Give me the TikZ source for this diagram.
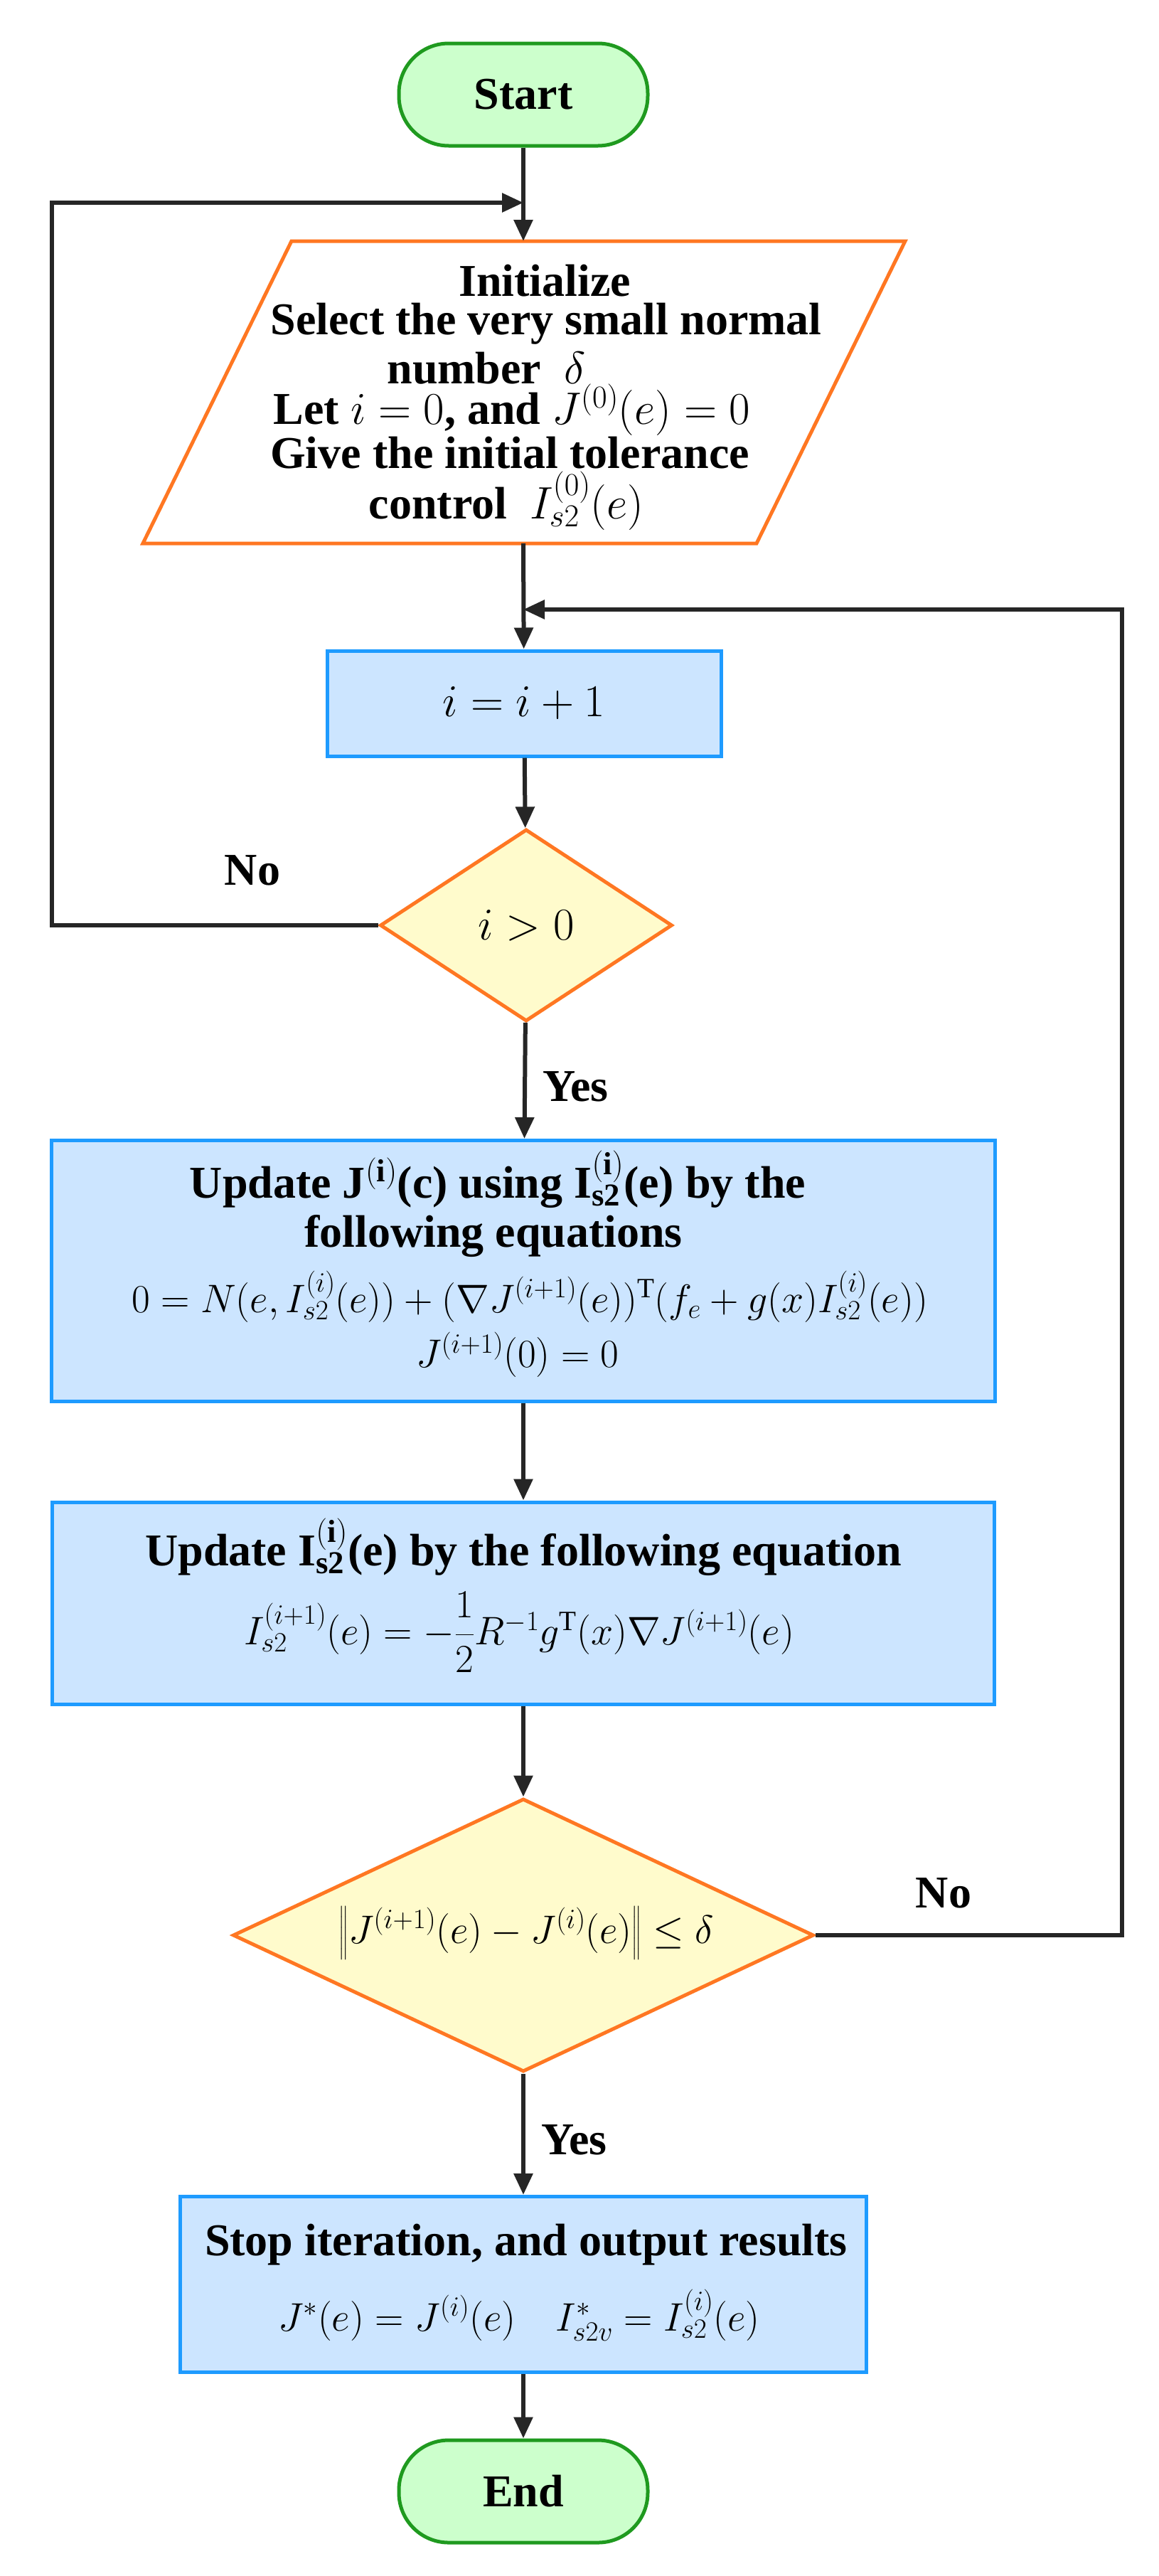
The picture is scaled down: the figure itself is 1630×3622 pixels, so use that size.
\RequirePackage{fix-cm}
\documentclass[tikz,border=0pt]{standalone}
\usepackage{amsmath}
\usepackage{fontspec}
\setmainfont{Liberation Serif}
\usetikzlibrary{shapes.geometric,arrows.meta}
\definecolor{gbd}{HTML}{1F9A1F}\definecolor{gfl}{HTML}{CCFFCC}
\definecolor{bbd}{HTML}{1E9BFF}\definecolor{bfl}{HTML}{CCE5FF}
\definecolor{obd}{HTML}{FF7722}\definecolor{yfl}{HTML}{FFFBCC}
\begin{document}
\begin{tikzpicture}[x=1pt,y=-1pt,
  every node/.style={font=\fontsize{64}{62}\selectfont\bfseries, align=center, inner sep=0},
  term/.style={draw=gbd, fill=gfl, line width=5pt, rounded corners=70pt, minimum width=350pt, minimum height=144pt},
  box/.style={draw=bbd, fill=bfl, line width=5pt},
  dia/.style={draw=obd, fill=yfl, line width=5pt},
  arr/.style={line width=6pt, draw=black!85, -{Triangle[length=30pt,width=26pt]}},
  ln/.style={line width=6pt, draw=black!85}]
\useasboundingbox (0,0) rectangle (1630,3622);
% start
\node[term] (start) at (736,133) {Start};
% parallelogram
\draw[draw=obd, line width=5pt, fill=white] (410,339) -- (1273,339) -- (1064,764) -- (201,764) -- cycle;
\coordinate (inTop) at (736,339);
\coordinate (inBot) at (736,764);
\node at (766,395) {Initialize};
\node at (768,455) {Select the very small normal};
\node at (684,518) {number\ \ $\delta$};
\node at (720,576) {Let $i=0$, and $J^{(0)}(e)=0$};
\node at (717,637) {Give the initial tolerance};
\node at (712,704) {control\ \ $I_{s2}^{(0)}(e)$};
% i=i+1
\node[box, minimum width=554pt, minimum height=148pt] (inc) at (737,989) {\mdseries $i=i+1$};
% diamond 1
\node[dia, diamond, minimum width=411pt, minimum height=270pt, inner sep=0] (d1) at (740,1301) {\mdseries $i>0$};
% box1
\node[box, minimum width=1327pt, minimum height=367pt] (u1) at (736,1787) {};
\node at (700,1658) {Update $\mathbf{J}^{(\mathbf{i})}$(c) using $\mathbf{I}_{\mathbf{s2}}^{(\mathbf{i})}$(e) by the};
\node at (694,1738) {following equations};
\node at (745,1823) {\mdseries\fontsize{56}{60}\selectfont $0=N(e,I_{s2}^{(i)}(e))+(\nabla J^{(i+1)}(e))^{\mathrm{T}}(f_e+g(x)I_{s2}^{(i)}(e))$};
\node at (728,1905) {\mdseries\fontsize{56}{60}\selectfont $J^{(i+1)}(0)=0$};
% box2
\node[box, minimum width=1325pt, minimum height=284pt] (u2) at (736,2254) {};
\node at (736,2175) {Update $\mathbf{I}_{\mathbf{s2}}^{(\mathbf{i})}$(e) by the following equation};
\node at (730,2295) {\mdseries\fontsize{56}{60}\selectfont $I_{s2}^{(i+1)}(e)=-\dfrac{1}{2}R^{-1}g^{\mathrm{T}}(x)\nabla J^{(i+1)}(e)$};
% diamond 2
\node[dia, diamond, minimum width=817pt, minimum height=384pt, inner sep=0] (d2) at (736,2721) {};
\node at (740,2718) {\mdseries\fontsize{56}{60}\selectfont $\left\| J^{(i+1)}(e)-J^{(i)}(e)\right\|\le\delta$};
% box3
\node[box, minimum width=965pt, minimum height=247pt] (u3) at (736,3212) {};
\node at (740,3156) {Stop iteration, and output results};
\node at (730,3255) {\mdseries\fontsize{56}{60}\selectfont $J^{*}(e)=J^{(i)}(e)\quad I_{s2v}^{*}=I_{s2}^{(i)}(e)$};
% end
\node[term] (end) at (736,3503) {End};
% connectors
\coordinate (lj) at (736,285);
\coordinate (rj) at (736,857);
\draw[arr] (start) -- (inTop);
\draw[arr] (inBot) -- (inc);
\draw[arr] (inc) -- (d1);
\draw[arr] (d1) -- node[right=22pt, pos=0.55]{Yes} (u1);
\draw[arr] (u1) -- (u2);
\draw[arr] (u2) -- (d2);
\draw[arr] (d2) -- node[right=22pt, pos=0.55]{Yes} (u3);
\draw[arr] (u3) -- (end);
\draw[arr] (d1.west) -- (73,1301) -- (73,285) -- (lj);
\draw[arr] (d2.east) -- (1578,2721) -- (1578,857) -- (rj);
\node at (355,1224) {No};
\node at (1327,2662) {No};
\end{tikzpicture}
\end{document}
